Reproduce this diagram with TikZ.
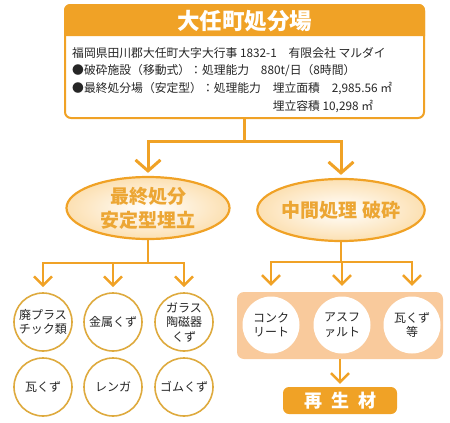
\documentclass[tikz,border=0pt]{standalone}
\usepackage{fontspec}
\setmainfont{Noto Sans CJK JP}
\usetikzlibrary{arrows.meta, positioning, shapes.geometric}

\definecolor{mainorange}{RGB}{240,162,38}
\definecolor{textorange}{RGB}{236,166,52}
\definecolor{ringgold}{RGB}{222,170,62}
\definecolor{bandfill}{RGB}{249,202,156}
\definecolor{ovalfill}{RGB}{252,224,178}

\begin{document}
\begin{tikzpicture}[
  x=1pt, y=-1pt,
  sitebox/.style={rectangle, rounded corners=6pt, draw=mainorange, line width=2pt, fill=white, minimum width=359pt, minimum height=113pt},
  oval/.style={ellipse, draw=mainorange, line width=2.2pt, inner color=white, outer color=ovalfill, inner sep=0pt, minimum width=163pt, minimum height=62pt, align=center, text=textorange, font=\fontsize{19}{24}\selectfont\bfseries},
  waste/.style={circle, draw=ringgold, line width=1.6pt, fill=white, minimum size=58pt, inner sep=0pt, align=center, text=black!85, font=\fontsize{12}{14.5}\selectfont},
  crushed/.style={circle, fill=white, minimum size=57pt, inner sep=0pt, align=center, text=black!85, font=\fontsize{12}{14.5}\selectfont},
  band/.style={rectangle, rounded corners=7pt, fill=bandfill, minimum width=206pt, minimum height=67pt},
  recycled/.style={rectangle, rounded corners=6pt, fill=mainorange, minimum width=114pt, minimum height=27pt, inner sep=0pt, text=white, font=\fontsize{18}{20}\selectfont\bfseries},
  link/.style={draw=mainorange, line width=3pt},
  arrow/.style={link, -{Straight Barb[length=11pt, width=25pt]}},
  sublink/.style={draw=mainorange, line width=2.5pt},
  subarrow/.style={sublink, -{Straight Barb[length=9pt, width=18pt]}}
]
\useasboundingbox (0,0) rectangle (450,423);

% Site box with header
\node[sitebox] (site) at (244.5,61.5) {};
\fill[mainorange] ([yshift=-32pt]site.north west) [rounded corners=6pt] -- (site.north west) -- (site.north east) [sharp corners] -- ([yshift=-32pt]site.north east) -- cycle;
\node[text=white, font=\fontsize{22.5}{24}\selectfont\bfseries] (title) at (244.5,21) {大任町処分場};
\node[anchor=north west, align=left, inner sep=0pt, text=black!85, font=\fontsize{11.8}{17.7}\selectfont] (info) at (72,47) {%
  福岡県田川郡大任町大字大行事 1832-1　有限会社 マルダイ\\
  ●破砕施設（移動式）：処理能力　880t/日（8時間）\\
  ●最終処分場（安定型）：処理能力　埋立面積　2,985.56 ㎡\\
  \hphantom{●最終処分場（安定型）：処理能力　}埋立容積 10,298 ㎡};

% Two branches
\node[oval] (final) at (148,208) {最終処分\\安定型埋立};
\node[oval] (midproc) at (341,210) {中間処理 破砕};

% Final disposal items
\node[waste] (plastic) at (43,322) {廃プラス\\チック類};
\node[waste] (metal) at (113,322) {金属くず};
\node[waste] (glass) at (184,322) {ガラス\\陶磁器\\くず};
\node[waste] (tile) at (43,387) {瓦くず};
\node[waste] (brick) at (113,387) {レンガ};
\node[waste] (rubber) at (184,387) {ゴムくず};

% Crushing items
\node[band] (band) at (340,325.5) {};
\node[crushed] (concrete) at (271,325) {コンク\\リート};
\node[crushed] (asphalt) at (342,325) {アスフ\\ァルト};
\node[crushed] (rubble) at (412,325) {瓦くず\\等};
\node[recycled] (recycled) at (340,400.5) {再\hspace{9pt}生\hspace{9pt}材};

% Split points
\coordinate (topsplit) at (site.south |- 0,141);
\coordinate (lsplit) at (final.south |- 0,263);
\coordinate (rsplit) at (midproc.south |- 0,262);

% Arrows - top level
\draw[link] (site.south) -- (topsplit);
\draw[arrow, shorten >=3pt] (topsplit) -| (final.north);
\draw[arrow, shorten >=3pt] (topsplit) -| (midproc.north);

% Arrows - final disposal
\draw[sublink] (final.south) -- (lsplit);
\draw[subarrow, shorten >=5pt] (lsplit) -| (plastic.north);
\draw[subarrow, shorten >=5pt] (lsplit) -| (metal.north);
\draw[subarrow, shorten >=5pt] (lsplit) -| (glass.north);

% Arrows - crushing
\draw[sublink] (midproc.south) -- (rsplit);
\draw[subarrow, shorten >=6pt] (rsplit) -| (concrete.north |- band.north);
\draw[subarrow, shorten >=6pt] (rsplit) -| (asphalt.north |- band.north);
\draw[subarrow, shorten >=6pt] (rsplit) -| (rubble.north |- band.north);
\draw[subarrow, shorten >=3pt] (band.south) -- (recycled.north);

\end{tikzpicture}
\end{document}
